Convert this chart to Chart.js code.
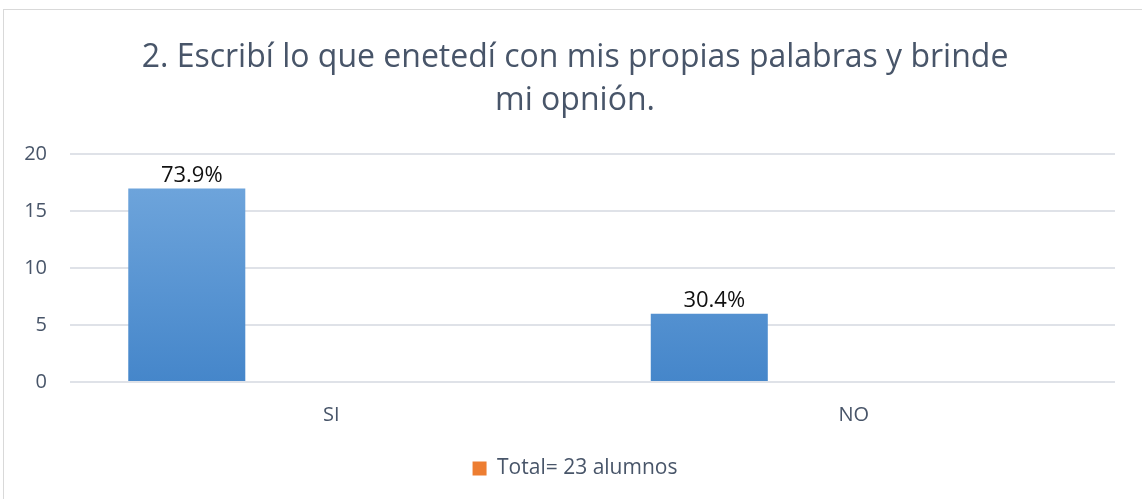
<!DOCTYPE html>
<html><head><meta charset="utf-8">
<script src="https://cdn.jsdelivr.net/npm/chart.js@4/dist/chart.umd.min.js"></script>
<style>
html,body{margin:0;padding:0;background:#fff;overflow:hidden;}
#frame{position:absolute;left:3px;top:9px;width:1160px;height:520px;border:1px solid #d9d9d9;box-sizing:border-box;}
#wrap{position:absolute;left:0;top:0;width:1142px;height:499px;}
</style></head><body>
<div id="frame"></div>
<div id="wrap"><canvas id="c" width="1142" height="499"></canvas></div>
<script>
const categories = ['SI', 'NO'];
const countValues = [17, 6];
const percentLabels = ['73.9%', '30.4%'];
const totalSeriesName = 'Total= 23 alumnos';
const totalValues = [null, null];
const titleLines = ['2. Escribí lo que enetedí con mis propias palabras y brinde', 'mi opnión.'];
const yMin = 0, yMax = 20, yStep = 5;

const FONT = "'Open Sans', Lato, 'Liberation Sans', sans-serif";
const TEXT = '#485569';

function blueGrad(ctx) {
  const chart = ctx.chart;
  const a = chart.chartArea;
  if (!a) return '#5B9BD5';
  const g = chart.ctx.createLinearGradient(0, a.top, 0, a.bottom);
  g.addColorStop(0, '#74a9de');
  g.addColorStop(1, '#4586ca');
  return g;
}

const labelPlugin = {
  id: 'pctLabels',
  afterDatasetsDraw(chart) {
    const meta = chart.getDatasetMeta(0);
    const c = chart.ctx;
    c.save();
    c.font = '22px ' + FONT;
    c.fillStyle = '#111';
    c.textAlign = 'center';
    c.textBaseline = 'alphabetic';
    meta.data.forEach((bar, i) => {
      c.fillText(percentLabels[i], bar.x + 5, bar.y - 7);
    });
    c.restore();
  }
};

new Chart(document.getElementById('c'), {
  type: 'bar',
  data: {
    labels: categories,
    datasets: [
      { label: 'Serie 1', data: countValues, backgroundColor: blueGrad, borderWidth: 0,
        categoryPercentage: 1.106, barPercentage: 0.405 },
      { label: totalSeriesName, data: totalValues, backgroundColor: '#ED7D31', borderWidth: 0,
        categoryPercentage: 1.106, barPercentage: 0.405 }
    ]
  },
  options: {
    responsive: false,
    animation: false,
    layout: { padding: { left: 8, right: 0, top: 0, bottom: 10 } },
    plugins: {
      title: {
        display: true,
        text: titleLines,
        color: TEXT,
        font: { family: FONT, size: 32, weight: 'normal', lineHeight: 1.35 },
        padding: { top: 36, bottom: 32 }
      },
      legend: {
        position: 'bottom',
        labels: {
          filter: (item) => item.datasetIndex === 1,
          color: TEXT,
          font: { family: FONT, size: 21 },
          boxWidth: 14, boxHeight: 14,
          padding: 10
        }
      },
      tooltip: { enabled: false }
    },
    scales: {
      x: {
        grid: { display: false, drawTicks: false },
        border: { display: false },
        ticks: { color: TEXT, font: { family: FONT, size: 20 }, padding: 21 }
      },
      y: {
        min: yMin, max: yMax,
        afterFit(scale) { scale.width = 62; },
        grid: { color: '#dfe2e8', lineWidth: 2, drawTicks: false },
        border: { display: false },
        ticks: { stepSize: yStep, color: TEXT, font: { family: FONT, size: 20 }, padding: 23 }
      },
      yRight: {
        position: 'right',
        display: true,
        afterFit(scale) { scale.width = 27; },
        grid: { display: false, drawTicks: false },
        border: { display: false },
        ticks: { display: false }
      }
    }
  },
  plugins: [labelPlugin]
});
</script>
</body></html>
